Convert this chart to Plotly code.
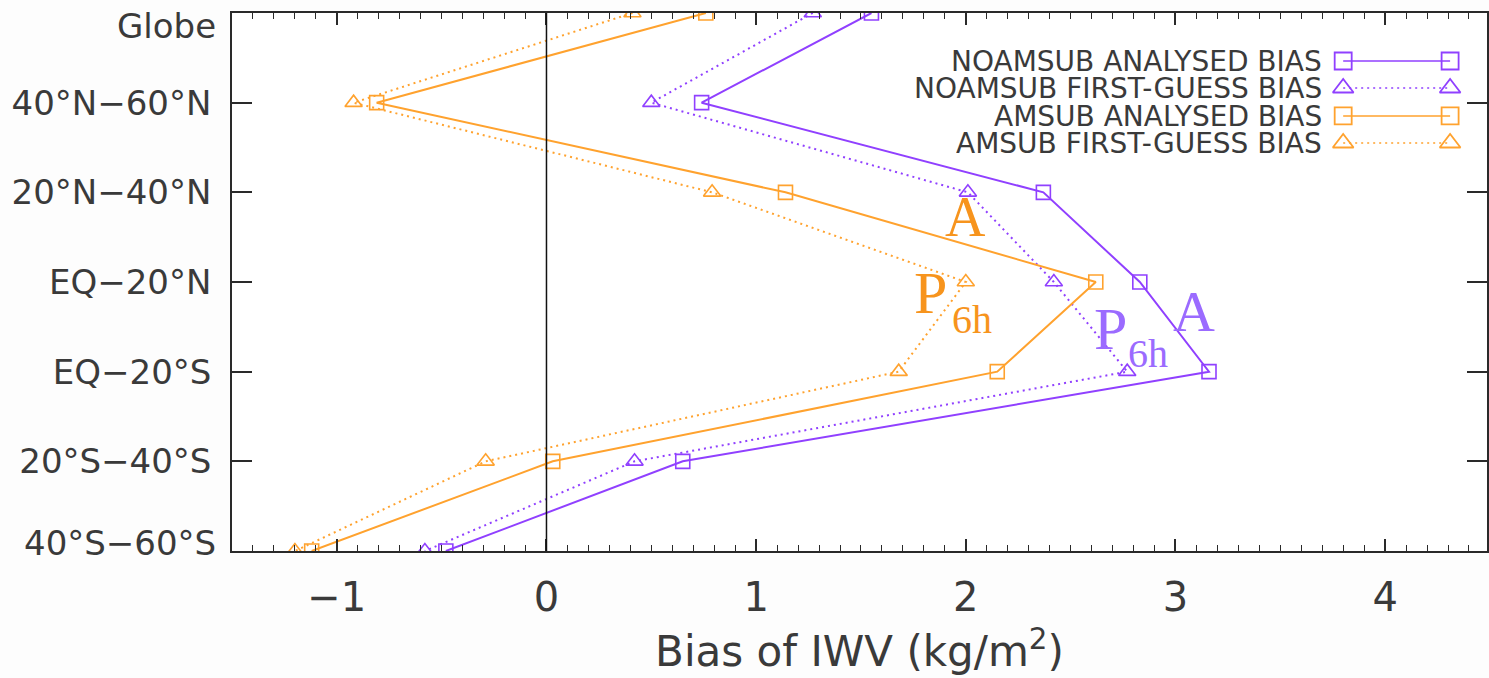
import plotly.graph_objects as go

# ---------------- data ----------------
regions = ["Globe", "40°N−60°N", "20°N−40°N", "EQ−20°N", "EQ−20°S", "20°S−40°S", "40°S−60°S"]
noamsub_analysed = [1.55, 0.74, 2.37, 2.83, 3.16, 0.65, -0.48]
noamsub_firstguess = [1.27, 0.50, 2.01, 2.42, 2.77, 0.42, -0.58]
amsub_analysed = [0.76, -0.81, 1.14, 2.62, 2.15, 0.03, -1.12]
amsub_firstguess = [0.41, -0.92, 0.79, 2.00, 1.68, -0.29, -1.20]
series_names = ["NOAMSUB ANALYSED BIAS", "NOAMSUB FIRST-GUESS BIAS",
                "AMSUB ANALYSED BIAS", "AMSUB FIRST-GUESS BIAS"]
x_tick_vals = [-1, 0, 1, 2, 3, 4]

# ---------------- style ----------------
PURPLE = "#9040FF"
ORANGE = "#FFA22E"
PURPLE_TXT = "#9B6BFF"
ORANGE_TXT = "#F7941D"
AXC = "#2a2a2a"
TXT = "#3a3a3a"
FONT = "DejaVu Sans"

ypos = list(range(len(regions)))

styles = [
    dict(color=PURPLE, dash="solid", symbol="square-open", size=14),
    dict(color=PURPLE, dash="2px,4px", symbol="triangle-up-open", size=15),
    dict(color=ORANGE, dash="solid", symbol="square-open", size=14),
    dict(color=ORANGE, dash="2px,4px", symbol="triangle-up-open", size=15),
]
all_series = [noamsub_analysed, noamsub_firstguess, amsub_analysed, amsub_firstguess]

fig = go.Figure()

for vals, st, name in zip(all_series, styles, series_names):
    fig.add_trace(go.Scatter(
        x=vals, y=ypos, mode="lines+markers", name=name, showlegend=False,
        line=dict(color=st["color"], width=2, dash=st["dash"]),
        marker=dict(symbol=st["symbol"], size=st["size"], color=st["color"],
                    line=dict(color=st["color"], width=1.6)),
        cliponaxis=True,
    ))

# ---------- custom legend (text left, key on right) ----------
leg_x = [0.8854, 0.9706]
leg_y = [0.9108, 0.8606, 0.8086, 0.7584]
for st, name, ly in zip(styles, series_names, leg_y):
    fig.add_trace(go.Scatter(
        x=leg_x, y=[ly, ly], xaxis="x2", yaxis="y2", mode="lines+markers",
        showlegend=False, hoverinfo="skip",
        line=dict(color=st["color"], width=1.6, dash=st["dash"]),
        marker=dict(symbol=st["symbol"], size=st["size"] + 3, color=st["color"],
                    line=dict(color=st["color"], width=1.8)),
    ))
    fig.add_annotation(x=0.8695, y=ly, xref="x2", yref="y2", text=name,
                       showarrow=False, xanchor="right", yanchor="middle",
                       height=24, borderpad=0, valign="middle",
                       font=dict(family=FONT, size=28, color=TXT))

# ---------- vertical zero line ----------
fig.add_shape(type="line", xref="x", yref="paper", x0=0, x1=0, y0=0, y1=1,
              line=dict(color="#111", width=1.5))

# ---------- edge category labels (drawn shifted inward, like the original) ----------
fig.add_annotation(x=0, y=ypos[0], xref="paper", yref="y", text=regions[0],
                   showarrow=False, xanchor="right", yanchor="middle",
                   xshift=-14, yshift=-13, font=dict(family=FONT, size=34, color=TXT))
fig.add_annotation(x=0, y=ypos[-1], xref="paper", yref="y", text=regions[-1],
                   showarrow=False, xanchor="right", yanchor="middle",
                   xshift=-14, yshift=8, font=dict(family=FONT, size=34, color=TXT))

# ---------- labels A / P6h ----------
serif = "Liberation Serif"
labels = [
    ("A", 2.0, 2.28, 56, ORANGE_TXT),
    ("P", 1.83, 3.12, 60, ORANGE_TXT),
    ("6h", 2.03, 3.42, 40, ORANGE_TXT),
    ("P", 2.69, 3.52, 60, PURPLE_TXT),
    ("6h", 2.87, 3.80, 40, PURPLE_TXT),
    ("A", 3.09, 3.33, 58, PURPLE_TXT),
]
for t, lx, ly, sz, c in labels:
    fig.add_annotation(x=lx, y=ly, xref="x", yref="y", text=t, showarrow=False,
                       xanchor="center", yanchor="middle",
                       font=dict(family=serif, size=sz, color=c))

fig.update_layout(
    margin=dict(l=232, r=0, t=13, b=127),
    paper_bgcolor="#fdfdfd", plot_bgcolor="#ffffff",
    font=dict(family=FONT, color=TXT),
    xaxis=dict(
        range=[-1.5, 4.486], tickvals=x_tick_vals, tickformat="d",
        ticks="inside", ticklen=12, tickwidth=1.5, tickcolor=AXC,
        minor=dict(dtick=0.1, ticks="inside", ticklen=6, tickwidth=1.2, tickcolor=AXC),
        showline=True, linecolor=AXC, linewidth=2, mirror="ticks",
        showgrid=False, zeroline=False,
        tickfont=dict(family=FONT, size=40, color=TXT),
        ticklabelstandoff=10,
        title=dict(text="Bias of IWV (kg/m<sup>2</sup>)", standoff=18,
                   font=dict(family=FONT, size=42, color=TXT)),
    ),
    yaxis=dict(
        range=[6, 0], tickvals=ypos[1:-1], ticktext=regions[1:-1],
        ticks="inside", ticklen=20, tickwidth=1.5, tickcolor=AXC,
        showline=True, linecolor=AXC, linewidth=1.5, mirror="ticks",
        showgrid=False, zeroline=False,
        tickfont=dict(family=FONT, size=34, color=TXT),
        ticklabelstandoff=12,
    ),
    xaxis2=dict(overlaying="x", range=[0, 1], visible=False),
    yaxis2=dict(overlaying="y", range=[0, 1], visible=False),
    showlegend=False,
)

fig.write_html("out.html")
